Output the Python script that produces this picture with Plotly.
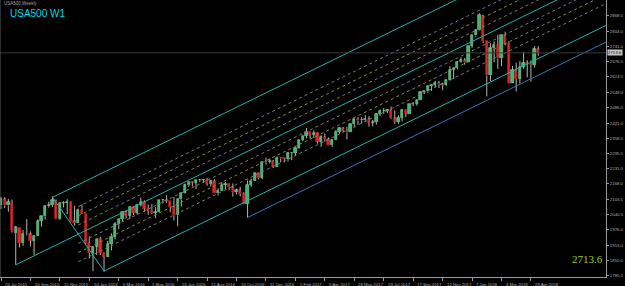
import plotly.graph_objects as go

# ---------------- data ----------------
# weekly bars, index 0 = week of 26 Jul 2015
opens = [2078,2104,2078,2090,1965,1986,1921,1961,1958,1931,1951,2014,2033,2075,2079,2099,2023,2089,2090,2092,2012,2005,2061,
         2044,1922,1880,1907,1940,1880,1865,1917,1948,2000,2022,2050,2036,2073,2048,2081,2092,2065,2057,2047,2052,2099,2099,2096,2071,2037,2103,2130,2162,2175,2173,2183,2184,2184,2169,2180,2128,2139,2165,2168,2153,2133,2141,2126,2085,2164,2182,2213,2192,2260,2258,2263,
         2239,2277,2274,2271,2295,2297,2316,2351,2367,2383,2373,2378,2344,2363,2355,2329,2349,2384,2399,2390,2382,2416,2439,2432,2433,2438,2423,2425,2459,2472,2472,2476,2441,2426,2443,2477,2461,2500,2502,2519,2549,2553,2575,2581,2588,2582,2579,2602,2642,2652,2675,2683,
         2674,2743,2786,2810,2867,2762,2620,2732,2747,2691,2786,2752,2588,2641,2604,2656,2670,2669,2663,2728]
highs = [2114,2112,2105,2102,1993,1986,1975,2021,1970,1953,2020,2034,2079,2094,2116,2100,2089,2095,2104,2093,2077,2065,2082,
         2044,1950,1910,1940,1947,1881,1930,1962,2009,2022,2052,2056,2075,2076,2085,2111,2099,2083,2085,2071,2100,2105,2120,2096,2113,2104,2131,2169,2175,2177,2183,2188,2187,2193,2185,2187,2150,2176,2175,2169,2170,2148,2156,2133,2182,2189,2214,2214,2260,2278,2273,2267,
         2282,2279,2276,2301,2299,2319,2352,2368,2401,2383,2391,2382,2371,2378,2361,2353,2392,2403,2404,2405,2418,2440,2446,2446,2454,2450,2434,2463,2477,2484,2480,2490,2474,2454,2480,2477,2500,2509,2520,2552,2555,2576,2583,2597,2597,2590,2604,2658,2652,2679,2695,2692,
         2743,2787,2812,2879,2872,2763,2754,2761,2789,2787,2802,2761,2659,2672,2680,2718,2683,2683,2742,2742]
lows = [2063,2067,2052,1965,1831,1903,1910,1953,1908,1872,1951,1990,2019,2069,2073,2022,2019,2070,2042,2008,1994,2005,2043,
        1918,1857,1804,1872,1872,1802,1865,1891,1937,1979,2010,2023,2022,2038,2040,2074,2053,2039,2043,2026,2052,2086,2089,2050,2015,1991,2074,2128,2155,2157,2147,2177,2172,2160,2157,2128,2119,2139,2145,2142,2115,2124,2116,2083,2028,2156,2180,2187,2187,2248,2253,2234,
        2238,2258,2258,2262,2267,2284,2313,2346,2358,2357,2359,2336,2322,2344,2328,2322,2349,2377,2384,2353,2382,2403,2415,2419,2428,2406,2407,2415,2450,2459,2462,2437,2418,2417,2428,2446,2461,2492,2494,2519,2542,2548,2555,2571,2567,2558,2576,2598,2605,2646,2673,2664,
        2674,2735,2781,2808,2754,2532,2596,2675,2647,2658,2745,2586,2593,2553,2586,2647,2612,2594,2652,2701]
closes = [2104,2078,2092,1971,1989,1921,1961,1958,1931,1951,2014,2033,2075,2079,2099,2023,2089,2090,2092,2012,2005,2061,2044,
          1922,1880,1907,1940,1880,1865,1917,1948,2000,2022,2050,2036,2073,2048,2081,2092,2065,2057,2047,2052,2099,2099,2096,2071,2037,2103,2130,2162,2175,2173,2183,2184,2184,2169,2180,2128,2139,2165,2168,2153,2133,2141,2126,2085,2164,2182,2213,2192,2260,2258,2263,2239,
          2277,2274,2271,2295,2297,2316,2351,2367,2383,2373,2378,2344,2363,2355,2329,2349,2384,2399,2390,2382,2416,2439,2432,2433,2438,2423,2425,2459,2472,2472,2476,2441,2426,2443,2477,2461,2500,2502,2519,2549,2553,2575,2581,2588,2582,2579,2602,2642,2652,2675,2683,2674,
          2743,2786,2810,2873,2762,2620,2732,2747,2691,2786,2752,2588,2641,2604,2656,2670,2669,2663,2728,2713.6]

tick_idx = [0, 8, 16, 24, 32, 40, 48, 56, 64, 72, 80, 88, 96, 104, 112, 120, 128, 136, 144]
tick_txt = ["26 Jul 2015", "20 Sep 2015", "15 Nov 2015", "10 Jan 2016", "6 Mar 2016", "1 May 2016",
            "26 Jun 2016", "21 Aug 2016", "16 Oct 2016", "11 Dec 2016", "5 Feb 2017", "2 Apr 2017",
            "28 May 2017", "23 Jul 2017", "17 Sep 2017", "12 Nov 2017", "7 Jan 2018", "4 Mar 2018", "29 Apr 2018"]
price_ticks = [1785.5, 1850.0, 1913.0, 1976.0, 2040.5, 2103.5, 2168.0, 2231.0, 2295.5, 2358.5,
               2421.0, 2486.0, 2549.0, 2613.5, 2676.5, 2741.0, 2804.0, 2868.5]
bid = 2713.6

# pitchfork anchor points (bar index, price)
pf_p1 = (4, 1831)
pf_p2 = (14, 2112)
pf_p3 = (28, 1805)
pf_levels = [0.25, 0.5, 0.75]
extra_anchor = (67, 2028)

# ---------------- figure ----------------
X0, X1 = -0.272, 164.4
Y0, Y1 = 1780.1, 2933.8
n = len(closes)
xs = list(range(n))

fig = go.Figure()

# wicks
wx, wy = [], []
for i in xs:
    top = max(opens[i], closes[i]); bot = min(opens[i], closes[i])
    wx += [i, i, None, i, i, None]
    wy += [highs[i], top, None, bot, lows[i], None]
fig.add_trace(go.Scatter(x=wx, y=wy, mode="lines", line=dict(color="#b4b4b4", width=1),
                         hoverinfo="skip", showlegend=False))

# bodies
base = [min(o, c) for o, c in zip(opens, closes)]
hgt = [max(abs(c - o), 1.0) for o, c in zip(opens, closes)]
cols = ["#3cb371" if c >= o else "#dc2828" for o, c in zip(opens, closes)]
lcols = ["#8fe0a8" if c >= o else "#dc2828" for o, c in zip(opens, closes)]
fig.add_trace(go.Bar(x=xs, y=hgt, base=base, width=0.62, marker=dict(color=cols, line=dict(color=lcols, width=0.6)),
                     hoverinfo="skip", showlegend=False))

# pitchfork
mx = (pf_p2[0] + pf_p3[0]) / 2
my = (pf_p2[1] + pf_p3[1]) / 2
slope = (my - pf_p1[1]) / (mx - pf_p1[0])
XE = 200


def ray(x, y, col, dash="solid", w=1):
    fig.add_trace(go.Scatter(x=[x, XE], y=[y, y + slope * (XE - x)], mode="lines",
                             line=dict(color=col, width=w, dash=dash), hoverinfo="skip", showlegend=False))


cyan = "#20b2aa"
ray(pf_p1[0], pf_p1[1], cyan)
ray(pf_p2[0], pf_p2[1], cyan)
ray(pf_p3[0], pf_p3[1], cyan)
fig.add_trace(go.Scatter(x=[pf_p2[0], pf_p3[0]], y=[pf_p2[1], pf_p3[1]], mode="lines",
                         line=dict(color=cyan, width=1), hoverinfo="skip", showlegend=False))
half = (pf_p2[1] - pf_p3[1]) / 2
for k, f in enumerate(pf_levels):
    col = "#8a8a3c" if k % 2 == 1 else "#7a7a7a"
    ray(mx, my + half * f, col, "3px,3px")
    ray(mx, my - half * f, col, "3px,3px")

ray(extra_anchor[0], extra_anchor[1], "#3a78b4")

# bid line
fig.add_trace(go.Scatter(x=[X0, X1], y=[bid, bid], mode="lines", line=dict(color="#3a3a3a", width=1),
                         hoverinfo="skip", showlegend=False))

axcol = "#9a9a9a"
lblfont = dict(size=4.3, color="#b0b0b0", family="Liberation Sans, Arial")
fig.update_xaxes(range=[X0, X1], showgrid=False, zeroline=False, showline=True, linecolor=axcol,
                 linewidth=1, tickvals=tick_idx, ticks="outside", ticklen=3, tickcolor=axcol,
                 showticklabels=False)
fig.update_yaxes(range=[Y0, Y1], side="right", showgrid=False, zeroline=False, showline=True,
                 linecolor=axcol, linewidth=1, tickvals=price_ticks,
                 ticktext=[f"{v:.1f}" for v in price_ticks], ticks="outside", ticklen=2,
                 tickcolor=axcol, tickfont=lblfont)

ann = []
for i, t in zip(tick_idx, tick_txt):
    ann.append(dict(x=i + 0.6, y=-0.012, xref="x", yref="paper", text=t, showarrow=False,
                    xanchor="left", yanchor="top", font=lblfont))
ann.append(dict(x=1.002, y=bid, xref="paper", yref="y", text="2713.6", showarrow=False, xanchor="left",
                yanchor="middle", bgcolor="#c8c8c8", borderpad=0,
                font=dict(size=4.3, color="#000000", family="Liberation Sans, Arial")))
ann.append(dict(x=0.999, y=0.064, xref="paper", yref="paper", text="2713.6", showarrow=False,
                xanchor="right", yanchor="middle",
                font=dict(size=11, color="#9acd32", family="Liberation Serif, Times New Roman")))
ann.append(dict(x=0.004, y=1.002, xref="paper", yref="paper", text="USA500,Weekly", showarrow=False,
                xanchor="left", yanchor="top", font=dict(size=4.5, color="#a0a0a0", family="Liberation Sans, Arial")))
ann.append(dict(x=0.014, y=0.977, xref="paper", yref="paper", text="USA500 W1", showarrow=False,
                xanchor="left", yanchor="top", font=dict(size=10, color="#00d8e8", family="Liberation Sans, Arial")))

fig.update_layout(width=625, height=286, margin=dict(l=0, r=19, t=0, b=9),
                  paper_bgcolor="#000000", plot_bgcolor="#000000", bargap=0, barmode="overlay",
                  annotations=ann, showlegend=False,
                  shapes=[dict(type="line", xref="paper", yref="paper", x0=0, x1=0, y0=0, y1=1,
                               line=dict(color="#5a5a5a", width=1))])

fig.write_html("out.html")
